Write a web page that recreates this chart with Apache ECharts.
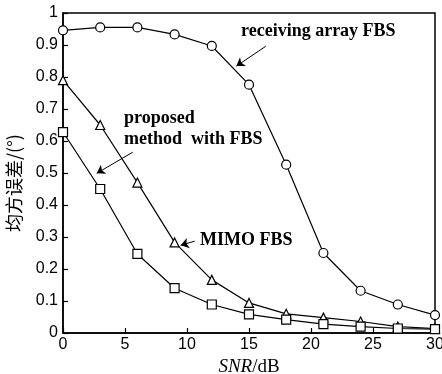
<!DOCTYPE html>
<html>
<head>
<meta charset="utf-8">
<script src="https://cdn.jsdelivr.net/npm/echarts@6/dist/echarts.min.js"></script>
<style>
  html, body { margin: 0; padding: 0; background: #fff; }
  #chart { width: 442px; height: 374px; }
</style>
</head>
<body>
<div id="chart"></div>
<script>
const snr = [0, 3, 6, 9, 12, 15, 18, 21, 24, 27, 30]
const receivingFbs = [0.946, 0.955, 0.955, 0.933, 0.897, 0.776, 0.526, 0.25, 0.132, 0.089, 0.056]
const mimoFbs = [0.79, 0.65, 0.47, 0.283, 0.166, 0.094, 0.06, 0.048, 0.036, 0.02, 0.014]
const proposedFbs = [0.628, 0.45, 0.247, 0.14, 0.089, 0.058, 0.042, 0.028, 0.02, 0.014, 0.012]

// annotation arrows in data space: [from, to]
const arrows = [
  [[16.35, 0.896], [13.98, 0.834]],
  [[5.62, 0.565], [2.72, 0.499]],
  [[10.62, 0.287], [9.49, 0.274]]
]

const chart = echarts.init(document.getElementById('chart'))

const serif = '"Liberation Serif", "DejaVu Serif", serif'
const sans = '"Liberation Sans", Arial, sans-serif'

const makeSeries = (name, values, symbol) => ({
  name,
  type: 'line',
  data: snr.map((x, i) => [x, values[i]]),
  symbol,
  symbolSize: 9,
  showAllSymbol: true,
  lineStyle: { color: '#000', width: 1.2 },
  itemStyle: { color: '#fff', borderColor: '#000', borderWidth: 1.2 },
  emphasis: { disabled: true },
  z: 3
})

const series = [
  makeSeries('receiving array FBS', receivingFbs, 'circle'),
  makeSeries('MIMO FBS', mimoFbs, 'triangle'),
  makeSeries('proposed method with FBS', proposedFbs, 'rect')
]

series[0].markLine = {
  silent: true,
  symbol: ['none', 'arrow'],
  symbolSize: 8,
  lineStyle: { color: '#000', type: 'solid', width: 1 },
  itemStyle: { color: '#000' },
  label: { show: false },
  data: arrows.map(([a, b]) => [{ coord: a }, { coord: b }])
}

const noteFont = 'bold 18px ' + serif

chart.setOption({
  animation: false,
  grid: {
    left: 63, right: 7, top: 13, bottom: 41,
    outerBoundsMode: 'none',
    containLabel: false,
    show: true, borderColor: '#000', borderWidth: 1.5
  },
  xAxis: {
    type: 'value',
    min: 0, max: 30, interval: 5,
    name: '{i|SNR}{n|/dB}',
    nameLocation: 'middle',
    nameGap: 22,
    nameTextStyle: {
      rich: {
        i: { fontFamily: serif, fontStyle: 'italic', fontSize: 19, color: '#000' },
        n: { fontFamily: serif, fontSize: 19, color: '#000' }
      }
    },
    axisLine: { lineStyle: { color: '#000', width: 1.5 } },
    axisTick: { inside: true, length: 5, lineStyle: { color: '#000', width: 1.2 } },
    axisLabel: { color: '#000', fontFamily: sans, fontSize: 16, margin: 4 },
    splitLine: { show: false }
  },
  yAxis: {
    type: 'value',
    min: 0, max: 1, interval: 0.1,
    name: '均方误差/(°)',
    nameLocation: 'middle',
    nameGap: 40,
    nameTextStyle: {
      fontFamily: '"Noto Sans CJK SC", sans-serif', fontSize: 18, color: '#000',
      padding: [0, 20, 0, 0]
    },
    axisLine: { lineStyle: { color: '#000', width: 1.5 } },
    axisTick: { inside: true, length: 5, lineStyle: { color: '#000', width: 1.2 } },
    axisLabel: {
      color: '#000', fontFamily: sans, fontSize: 16, margin: 5,
      formatter: (v) => (Math.round(v * 10) / 10).toString()
    },
    splitLine: { show: false }
  },
  graphic: [
    { type: 'text', left: 241, top: 22, style: { text: 'receiving array FBS', font: noteFont, fill: '#000' } },
    { type: 'text', left: 124, top: 109, style: { text: 'proposed', font: noteFont, fill: '#000' } },
    { type: 'text', left: 124, top: 130, style: { text: 'method  with FBS', font: noteFont, fill: '#000' } },
    { type: 'text', left: 200, top: 231, style: { text: 'MIMO FBS', font: noteFont, fill: '#000' } }
  ],
  series
})
</script>
</body>
</html>
